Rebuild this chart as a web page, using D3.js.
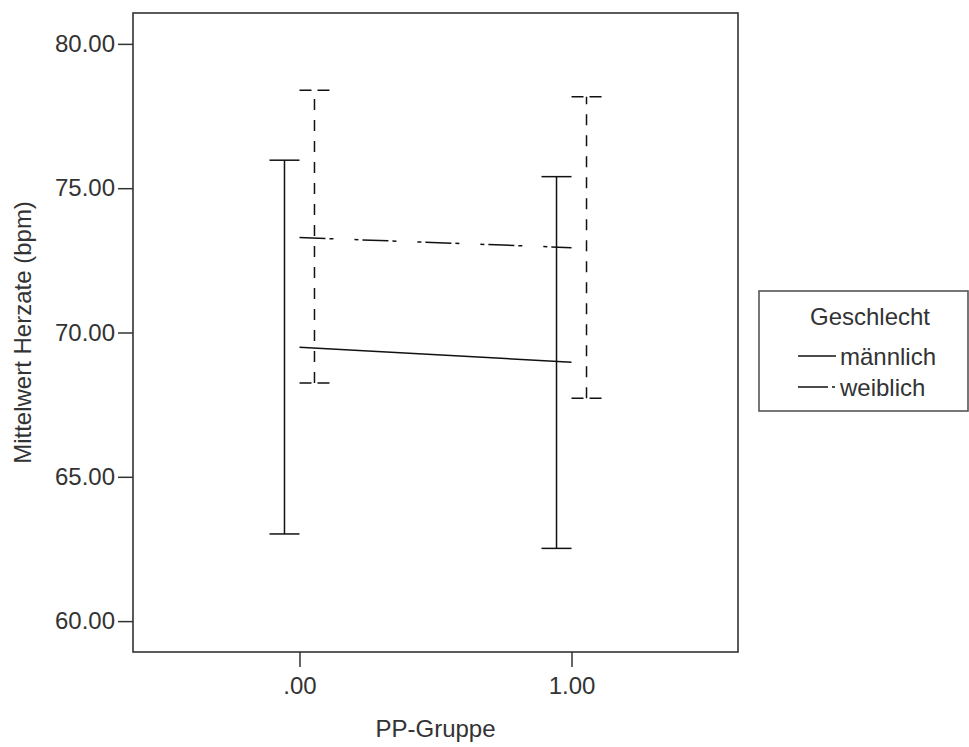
<!DOCTYPE html>
<html>
<head>
  <meta charset="utf-8">
  <title>Mittelwert Herzrate nach PP-Gruppe</title>
  <script src="https://d3js.org/d3.v7.min.js"></script>
  <style>
    body { margin: 0; background: #fff; }
    svg text { font-family: "Liberation Sans", Arial, sans-serif; fill: #333; }
  </style>
</head>
<body>
<script>
  // data (means and error bar ends)
  var groups = [0, 1];
  var sexes = ["männlich", "weiblich"];
  var maleMean = [69.49, 68.97];
  var maleLow = [63.02, 62.52];
  var maleHigh = [75.97, 75.40];
  var femaleMean = [73.29, 72.94];
  var femaleLow = [68.25, 67.72];
  var femaleHigh = [78.39, 78.17];
  var yTicks = [60, 65, 70, 75, 80];

  var W = 969, H = 747;
  var plot = { left: 133, right: 738, top: 13, bottom: 652 };

  var svg = d3.select("body").append("svg")
    .attr("width", W)
    .attr("height", H);

  var x = d3.scaleLinear().domain([-0.612, 1.612]).range([plot.left, plot.right]);
  var y = d3.scaleLinear().domain([58.93, 81.07]).range([plot.bottom, plot.top]);

  var series = [
    { name: sexes[0], mean: maleMean, low: maleLow, high: maleHigh, off: -15,
      bar: null, cap: null, line: null },
    { name: sexes[1], mean: femaleMean, low: femaleLow, high: femaleHigh, off: 15,
      bar: "11,10", cap: "12,6", line: "26,4,4,21,4,4" }
  ];

  // axes
  var yAxis = d3.axisLeft(y)
    .tickValues(yTicks)
    .tickFormat(d3.format(".2f"))
    .tickSize(15)
    .tickPadding(3)
    .tickSizeOuter(0);
  var gy = svg.append("g")
    .attr("transform", "translate(" + plot.left + ",0)")
    .call(yAxis);

  var xAxis = d3.axisBottom(x)
    .tickValues(groups)
    .tickFormat(function (d) { return d3.format(".2f")(d).replace(/^0/, ""); })
    .tickSize(15)
    .tickPadding(10)
    .tickSizeOuter(0);
  var gx = svg.append("g")
    .attr("transform", "translate(0," + plot.bottom + ")")
    .call(xAxis);

  [gx, gy].forEach(function (g) {
    g.select(".domain").remove();
    g.selectAll(".tick line").attr("stroke", "#333").attr("stroke-width", 1.5);
    g.selectAll(".tick text").style("font-size", "24px").attr("fill", "#3a3a3a");
  });

  // frame
  svg.append("rect")
    .attr("x", plot.left)
    .attr("y", plot.top)
    .attr("width", plot.right - plot.left)
    .attr("height", plot.bottom - plot.top)
    .attr("fill", "none")
    .attr("stroke", "#333")
    .attr("stroke-width", 1.6);

  // mean lines
  var line = d3.line()
    .x(function (d) { return x(d[0]); })
    .y(function (d) { return y(d[1]); });

  series.forEach(function (s) {
    svg.append("path")
      .datum(groups.map(function (g, i) { return [g, s.mean[i]]; }))
      .attr("d", line)
      .attr("fill", "none")
      .attr("stroke", "#111")
      .attr("stroke-width", 1.5)
      .attr("stroke-dasharray", s.line);

    var eb = svg.append("g").selectAll("g")
      .data(groups)
      .enter().append("g");

    eb.append("line")
      .attr("x1", function (d) { return x(d) + s.off; })
      .attr("x2", function (d) { return x(d) + s.off; })
      .attr("y1", function (d, i) { return y(s.low[i]); })
      .attr("y2", function (d, i) { return y(s.high[i]); })
      .attr("stroke", "#111")
      .attr("stroke-width", 1.5)
      .attr("stroke-dasharray", s.bar);

    ["low", "high"].forEach(function (k) {
      eb.append("line")
        .attr("x1", function (d) { return x(d) + s.off - 15; })
        .attr("x2", function (d) { return x(d) + s.off + 15; })
        .attr("y1", function (d, i) { return y(s[k][i]); })
        .attr("y2", function (d, i) { return y(s[k][i]); })
        .attr("stroke", "#111")
        .attr("stroke-width", 1.5)
        .attr("stroke-dasharray", s.cap);
    });
  });

  // axis titles
  svg.append("text")
    .attr("x", (plot.left + plot.right) / 2)
    .attr("y", 737)
    .attr("text-anchor", "middle")
    .style("font-size", "24px")
    .text("PP-Gruppe");

  svg.append("text")
    .attr("transform", "translate(31," + (plot.top + plot.bottom) / 2 + ") rotate(-90)")
    .attr("text-anchor", "middle")
    .style("font-size", "24px")
    .text("Mittelwert Herzate (bpm)");

  // legend
  var lg = svg.append("g");
  lg.append("rect")
    .attr("x", 759)
    .attr("y", 291)
    .attr("width", 209)
    .attr("height", 120)
    .attr("fill", "#fff")
    .attr("stroke", "#555")
    .attr("stroke-width", 1.6);
  lg.append("text")
    .attr("x", 870)
    .attr("y", 325)
    .attr("text-anchor", "middle")
    .style("font-size", "24px")
    .text("Geschlecht");

  var items = lg.selectAll(".item")
    .data(series)
    .enter().append("g")
    .attr("class", "item")
    .attr("transform", function (d, i) { return "translate(798," + (356 + i * 31) + ")"; });
  items.append("line")
    .attr("x1", 0)
    .attr("x2", 38)
    .attr("stroke", "#111")
    .attr("stroke-width", 1.5)
    .attr("stroke-dasharray", function (d) { return d.line ? "30,4,3,20" : null; });
  items.append("text")
    .attr("x", 42)
    .attr("y", 9)
    .style("font-size", "24px")
    .text(function (d) { return d.name; });
</script>
</body>
</html>
